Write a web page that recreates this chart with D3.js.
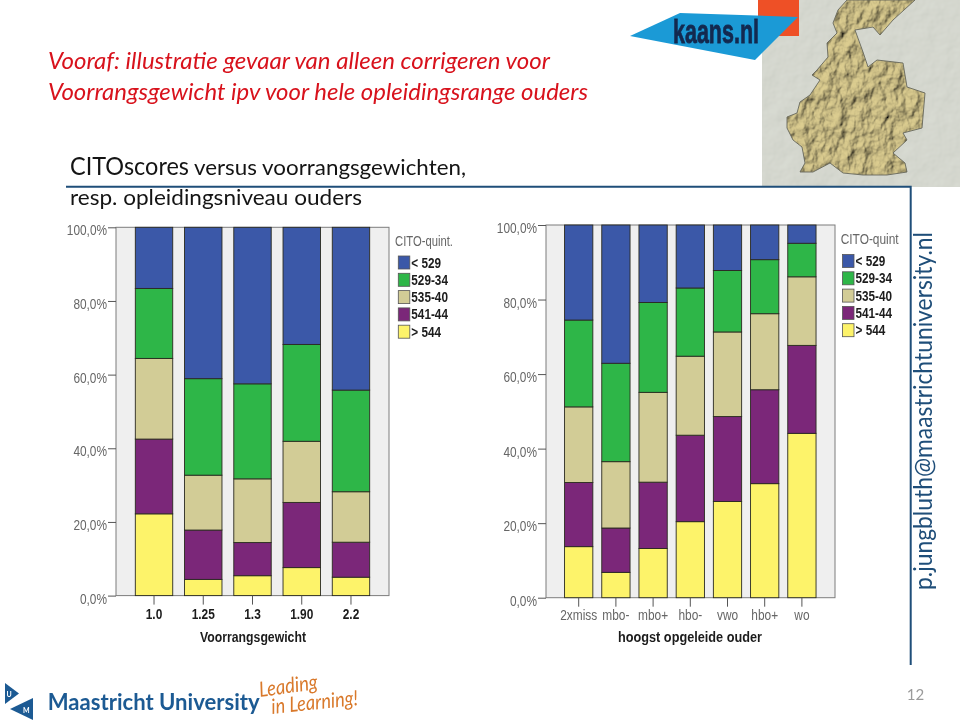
<!DOCTYPE html>
<html>
<head>
<meta charset="utf-8">
<script src="https://cdn.jsdelivr.net/npm/d3@7"></script>
<style>
html,body{margin:0;padding:0;background:#fff;}
svg{display:block;}
text{font-family:"Lato","Open Sans",sans-serif;}
.spss text{font-family:"Liberation Sans",Arial,sans-serif;}
</style>
</head>
<body>
<script>
// CITO quintiles, bottom to top of each stack
var quintiles = ["> 544","541-44","535-40","529-34","< 529"];
var legendOrder = ["< 529","529-34","535-40","541-44","> 544"];
var quintColors = ["#fdf36a","#7b2779","#d2cc96","#2eb648","#3b58a8"];
var yTicks = [0,20,40,60,80,100];

// left chart: percentage per quintile for each voorrangsgewicht
var weightCats = ["1.0","1.25","1.3","1.90","2.2"];
var weightYellow = [22.2,4.4,5.4,7.6,5.0];
var weightPurple = [20.3,13.4,9.0,17.7,9.5];
var weightTan    = [21.9,14.9,17.3,16.6,13.7];
var weightGreen  = [19.0,26.2,25.8,26.3,27.6];
var weightBlue   = [16.6,41.1,42.5,31.8,44.2];

// right chart: percentage per quintile for each parental education level
var eduCats = ["2xmiss","mbo-","mbo+","hbo-","vwo","hbo+","wo"];
var eduYellow = [13.7,6.8,13.2,20.4,25.8,30.6,44.1];
var eduPurple = [17.2,11.9,17.8,23.2,22.8,25.2,23.6];
var eduTan    = [20.3,17.8,24.1,21.2,22.7,20.4,18.4];
var eduGreen  = [23.3,26.4,24.1,18.3,16.5,14.5,9.0];
var eduBlue   = [25.5,37.1,20.8,16.9,12.2,9.3,4.9];

var svg = d3.select("body").append("svg")
	.attr("width",960)
	.attr("height",721);

var defs = svg.append("defs");

// shaded relief for the map corner
var relief = defs.append("filter").attr("id","relief")
	.attr("x",0).attr("y",0).attr("width","100%").attr("height","100%");
relief.append("feTurbulence").attr("type","fractalNoise").attr("baseFrequency","0.09 0.06")
	.attr("numOctaves",5).attr("seed",5).attr("result","n");
var light = relief.append("feDiffuseLighting").attr("in","n").attr("surfaceScale",5)
	.attr("lighting-color","#ffffff").attr("result","lit");
light.append("feDistantLight").attr("azimuth",225).attr("elevation",50);
relief.append("feComposite").attr("in","lit").attr("in2","SourceGraphic").attr("operator","in");

var mottle = defs.append("filter").attr("id","mottle")
	.attr("x",0).attr("y",0).attr("width","100%").attr("height","100%");
mottle.append("feTurbulence").attr("type","fractalNoise").attr("baseFrequency",0.06)
	.attr("numOctaves",3).attr("seed",11).attr("result","n");
var light2 = mottle.append("feDiffuseLighting").attr("in","n").attr("surfaceScale",0.9)
	.attr("lighting-color","#d9dcd3").attr("result","lit");
light2.append("feDistantLight").attr("azimuth",225).attr("elevation",72);
mottle.append("feComposite").attr("in","lit").attr("in2","SourceGraphic").attr("operator","in");

drawDecor();
drawChart({
	cats: weightCats,
	series: [weightYellow,weightPurple,weightTan,weightGreen,weightBlue],
	plotX: [116,389], bandX: [129.4,375.6],
	y: [595.6,227.3],
	tickLeft: 108,
	catBold: true, catY: 619,
	title: "Voorrangsgewicht", titleX: 253, titleY: 642, titleLen: 106,
	legendTitle: "CITO-quint.", legendX: 398.3, legendTitleX: 395, legendTitleY: 245.5, legendY: 256
});
drawChart({
	cats: eduCats,
	series: [eduYellow,eduPurple,eduTan,eduGreen,eduBlue],
	plotX: [546,835], bandX: [560.1,820.5],
	y: [597.7,225],
	tickLeft: 538,
	catBold: false, catY: 620,
	title: "hoogst opgeleide ouder", titleX: 690, titleY: 642, titleLen: 144,
	legendTitle: "CITO-quint", legendX: 842.5, legendTitleX: 840.7, legendTitleY: 244, legendY: 254.5
});

// the SPSS labels are narrower than any installed font, so squeeze them
function squeeze(sel,factor){
	sel.each(function(){
		d3.select(this)
			.attr("textLength",this.getComputedTextLength()*factor)
			.attr("lengthAdjust","spacingAndGlyphs");
	});
}

function drawChart(o){
	var x = d3.scaleBand().domain(o.cats).range(o.bandX).paddingInner(0.24).paddingOuter(0.12);
	var y = d3.scaleLinear().domain([0,100]).range(o.y);

	var rows = o.cats.map(function(c,i){
		var row = {cat:c};
		quintiles.forEach(function(q,k){ row[q] = o.series[k][i]; });
		return row;
	});
	var stacked = d3.stack().keys(quintiles)(rows);

	var g = svg.append("g").attr("class","spss");

	g.append("rect")
		.attr("x",o.plotX[0]).attr("y",y(100))
		.attr("width",o.plotX[1]-o.plotX[0]).attr("height",y(0)-y(100))
		.attr("fill","#efefef").attr("stroke","#7d7d7d").attr("stroke-width",1);

	g.selectAll(".layer").data(stacked).enter().append("g")
		.attr("class","layer")
		.attr("fill",function(d,i){ return quintColors[i]; })
		.selectAll("rect").data(function(d){ return d; }).enter().append("rect")
			.attr("x",function(d){ return x(d.data.cat); })
			.attr("y",function(d){ return y(d[1]); })
			.attr("width",x.bandwidth())
			.attr("height",function(d){ return y(d[0])-y(d[1]); })
			.attr("stroke","#2a2a20").attr("stroke-width",0.9);

	var yAxis = d3.axisLeft(y).tickValues(yTicks)
		.tickSize(o.plotX[0]-o.tickLeft).tickPadding(1)
		.tickFormat(function(d){ return d + ",0%"; });
	var ya = g.append("g").attr("transform","translate("+o.plotX[0]+",0)").call(yAxis);
	ya.select(".domain").remove();
	ya.selectAll("line").attr("stroke","#555");
	ya.selectAll("text").attr("fill","#666").attr("dy","0.5em").style("font-size","15px")
		.call(squeeze,0.79);

	var xAxis = d3.axisBottom(x).tickSize(9).tickPadding(0);
	var xa = g.append("g").attr("transform","translate(0,"+y(0)+")").call(xAxis);
	xa.select(".domain").remove();
	xa.selectAll("line").attr("stroke","#555");
	xa.selectAll("text")
		.attr("y",o.catY-y(0)).attr("dy",0)
		.attr("fill",o.catBold ? "#1c1c1c" : "#666")
		.style("font-size","14.5px")
		.style("font-weight",o.catBold ? "bold" : "normal")
		.call(squeeze,0.82);

	g.append("text").attr("x",o.titleX).attr("y",o.titleY).attr("text-anchor","middle")
		.attr("textLength",o.titleLen).attr("lengthAdjust","spacingAndGlyphs")
		.attr("fill","#1c1c1c").style("font-size","14.5px").style("font-weight","bold").text(o.title);

	g.append("text").attr("x",o.legendTitleX).attr("y",o.legendTitleY)
		.attr("textLength",58).attr("lengthAdjust","spacingAndGlyphs")
		.attr("fill","#666").style("font-size","14.5px").text(o.legendTitle);

	var item = g.selectAll(".item").data(legendOrder).enter().append("g")
		.attr("class","item")
		.attr("transform",function(d,i){ return "translate("+o.legendX+","+(o.legendY+i*17.3)+")"; });
	item.append("rect").attr("width",11.5).attr("height",13)
		.attr("fill",function(d){ return quintColors[quintiles.indexOf(d)]; })
		.attr("stroke","#555").attr("stroke-width",0.8);
	item.append("text").attr("x",13).attr("y",11.5)
		.attr("fill","#1c1c1c").style("font-size","14px").style("font-weight","bold")
		.text(function(d){ return d; })
		.call(squeeze,0.84);
}

// everything around the charts: slide text, logos, map
function drawDecor(){
	// map corner
	svg.append("rect").attr("x",762).attr("y",0).attr("width",198).attr("height",187)
		.attr("fill","#c9ccc2").attr("filter","url(#mottle)");
	var outline = "M847,0L838,10L833,23L837,33L827,43L828,57L817,70L812,75L820,80L810,95L800,102L797,113L787,117L787,128L793,140L802,147L805,163L800,172L813,172L830,163L843,173L863,175L887,175L907,172L905,163L893,153L907,140L903,133L922,128L925,93L907,87L903,63L877,60L868,67L863,52L855,30L873,27L880,35L893,20L915,0Z";
	svg.append("path").attr("d",outline).attr("fill","#dccd90");
	svg.append("path").attr("d",outline).attr("fill","#000").attr("filter","url(#relief)").style("mix-blend-mode","multiply");
	svg.append("path").attr("d",outline).attr("fill","none").attr("stroke","#66685c").attr("stroke-width",0.9);

	// kaans.nl logo
	svg.append("rect").attr("x",758).attr("y",0).attr("width",41).attr("height",36).attr("fill","#ee5026");
	svg.append("path").attr("d","M630,36L680,13L798,17L755,60Z").attr("fill","#1b9ad6");
	svg.append("text").attr("x",673).attr("y",43)
		.attr("textLength",86).attr("lengthAdjust","spacingAndGlyphs")
		.attr("fill","#13294f").attr("stroke","#13294f").attr("stroke-width",0.8)
		.style("font-family","'Liberation Sans',sans-serif")
		.style("font-weight","bold").style("font-size","34px").text("kaans.nl");

	// slide title
	var title = svg.append("g").attr("fill","#d8121c").style("font-style","italic").style("font-size","23.5px");
	title.append("text").attr("x",48).attr("y",69).attr("textLength",502).attr("lengthAdjust","spacingAndGlyphs").text("Vooraf: illustratie gevaar van alleen corrigeren voor");
	title.append("text").attr("x",48).attr("y",100).attr("textLength",540).attr("lengthAdjust","spacingAndGlyphs").text("Voorrangsgewicht ipv voor hele opleidingsrange ouders");

	var sub = svg.append("g").attr("fill","#141414");
	sub.append("text").attr("x",70).attr("y",175).attr("textLength",119).attr("lengthAdjust","spacingAndGlyphs").style("font-size","25px").text("CITOscores");
	sub.append("text").attr("x",194).attr("y",175).attr("textLength",272).attr("lengthAdjust","spacingAndGlyphs").style("font-size","22px").text("versus voorrangsgewichten,");
	sub.append("text").attr("x",70).attr("y",205).attr("textLength",292).attr("lengthAdjust","spacingAndGlyphs").style("font-size","22px").text("resp. opleidingsniveau ouders");

	// frame line
	svg.append("path").attr("d","M66,186.7H910.7V665").attr("fill","none").attr("stroke","#1f4e79").attr("stroke-width",2);

	// e-mail along the right edge
	svg.append("text").attr("transform","translate(932,590) rotate(-90)")
		.attr("textLength",358).attr("lengthAdjust","spacingAndGlyphs")
		.attr("fill","#1f4e79").style("font-size","24.5px")
		.text("p.jungbluth@maastrichtuniversity.nl");

	// page number
	svg.append("text").attr("x",915.5).attr("y",700).attr("text-anchor","middle")
		.attr("fill","#9a9a9a").style("font-size","15px").text("12");

	// UM logo
	svg.append("path").attr("d","M5,683L19,693.5L5,704Z").attr("fill","#1c5a93");
	svg.append("path").attr("d","M33,698L33,720L10,709Z").attr("fill","#1c5a93");
	svg.append("text").attr("x",6.5).attr("y",696.5).attr("fill","#fff").style("font-size","7px").style("font-weight","bold").text("U");
	svg.append("text").attr("x",23).attr("y",713).attr("fill","#fff").style("font-size","7px").style("font-weight","bold").text("M");
	svg.append("text").attr("x",47.7).attr("y",709.5).attr("textLength",212).attr("lengthAdjust","spacingAndGlyphs")
		.attr("fill","#1c5a93").style("font-size","23px").style("font-weight","bold").text("Maastricht University");

	var hand = svg.append("g").attr("fill","#d9792b").style("font-style","italic").style("font-size","21px");
	hand.append("text").attr("x",260).attr("y",697).attr("textLength",59).attr("lengthAdjust","spacingAndGlyphs").attr("transform","rotate(-8 260 697)").text("Leading");
	hand.append("text").attr("x",272).attr("y",714).attr("textLength",87).attr("lengthAdjust","spacingAndGlyphs").attr("transform","rotate(-6 272 714)").text("in Learning!");
}
</script>
</body>
</html>
